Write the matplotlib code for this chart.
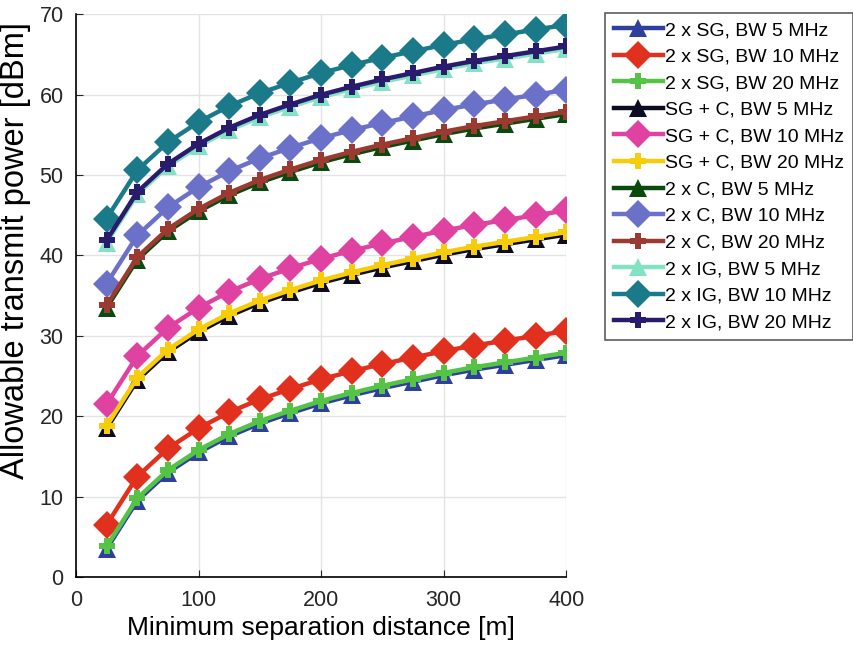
import matplotlib
matplotlib.use("Agg")
import matplotlib.pyplot as plt

plt.rcParams['font.family'] = ['Liberation Sans', 'DejaVu Sans']

distance = [25, 50, 75, 100, 125, 150, 175, 200, 225, 250, 275, 300, 325, 350, 375, 400]

sg_5 = [3.5, 9.5, 13.0, 15.5, 17.5, 19.1, 20.4, 21.6, 22.6, 23.5, 24.3, 25.1, 25.8, 26.4, 27.0, 27.6]
sg_10 = [6.5, 12.5, 16.0, 18.5, 20.5, 22.1, 23.4, 24.6, 25.6, 26.5, 27.3, 28.1, 28.8, 29.4, 30.0, 30.6]
sg_20 = [3.8, 9.8, 13.3, 15.8, 17.8, 19.4, 20.7, 21.9, 22.9, 23.8, 24.6, 25.4, 26.1, 26.7, 27.3, 27.9]
sgc_5 = [18.5, 24.5, 28.0, 30.5, 32.5, 34.1, 35.4, 36.6, 37.6, 38.5, 39.3, 40.1, 40.8, 41.4, 42.0, 42.6]
sgc_10 = [21.5, 27.5, 31.0, 33.5, 35.5, 37.1, 38.4, 39.6, 40.6, 41.5, 42.3, 43.1, 43.8, 44.4, 45.0, 45.6]
sgc_20 = [18.8, 24.8, 28.3, 30.8, 32.8, 34.4, 35.7, 36.9, 37.9, 38.8, 39.6, 40.4, 41.1, 41.7, 42.3, 42.9]
c_5 = [33.5, 39.5, 43.0, 45.5, 47.5, 49.1, 50.4, 51.6, 52.6, 53.5, 54.3, 55.1, 55.8, 56.4, 57.0, 57.6]
c_10 = [36.5, 42.5, 46.0, 48.5, 50.5, 52.1, 53.4, 54.6, 55.6, 56.5, 57.3, 58.1, 58.8, 59.4, 60.0, 60.6]
c_20 = [33.8, 39.8, 43.3, 45.8, 47.8, 49.4, 50.7, 51.9, 52.9, 53.8, 54.6, 55.4, 56.1, 56.7, 57.3, 57.9]
ig_5 = [41.6, 47.6, 51.1, 53.6, 55.6, 57.2, 58.5, 59.7, 60.7, 61.6, 62.4, 63.2, 63.9, 64.5, 65.1, 65.7]
ig_10 = [44.6, 50.6, 54.1, 56.6, 58.6, 60.2, 61.5, 62.7, 63.7, 64.6, 65.4, 66.2, 66.9, 67.5, 68.1, 68.7]
ig_20 = [41.9, 47.9, 51.4, 53.9, 55.9, 57.5, 58.8, 60.0, 61.0, 61.9, 62.7, 63.5, 64.2, 64.8, 65.4, 66.0]

labels = ["2 x SG, BW 5 MHz", "2 x SG, BW 10 MHz", "2 x SG, BW 20 MHz",
          "SG + C, BW 5 MHz", "SG + C, BW 10 MHz", "SG + C, BW 20 MHz",
          "2 x C, BW 5 MHz", "2 x C, BW 10 MHz", "2 x C, BW 20 MHz",
          "2 x IG, BW 5 MHz", "2 x IG, BW 10 MHz", "2 x IG, BW 20 MHz"]
series = [sg_5, sg_10, sg_20, sgc_5, sgc_10, sgc_20, c_5, c_10, c_20, ig_5, ig_10, ig_20]
colors = ["#2F3FA0", "#E2301E", "#55C445", "#0C0C22", "#E042A2", "#F7CC0A",
          "#0B4A0E", "#6B70C9", "#9A3A30", "#82E2C2", "#1A7A8A", "#2A1C6C"]
markers = ["^", "D", "P"] * 4
msizes = {"^": 13, "D": 14, "P": 11}

fig = plt.figure(figsize=(8.54, 6.52), dpi=100)
ax = fig.add_axes([0.089, 0.115, 0.574, 0.863])

for y, lab, col, mk in zip(series, labels, colors, markers):
    ax.plot(distance, y, color=col, marker=mk, markersize=msizes[mk],
            linewidth=3.2, label=lab, markeredgewidth=0)

ax.set_xlim(0, 400)
ax.set_ylim(0, 70)
ax.set_xticks([0, 100, 200, 300, 400])
ax.set_yticks(range(0, 71, 10))
ax.grid(True, color="#e3e3e3", linewidth=1)
ax.set_axisbelow(True)
ax.spines['top'].set_visible(False)
ax.spines['right'].set_visible(False)
ax.spines['left'].set_linewidth(1.2)
ax.spines['bottom'].set_linewidth(1.2)
ax.tick_params(direction='in', length=5, labelsize=15.5, colors='#262626', pad=9)
ax.set_xlabel("Minimum separation distance [m]", fontsize=19, labelpad=4)
ax.set_ylabel("Allowable transmit power [dBm]", fontsize=23.5)
ax.yaxis.set_label_coords(-0.092, 0.58)

leg = ax.legend(loc='upper left', bbox_to_anchor=(1.08, 1.003), fontsize=14,
                frameon=True, fancybox=False, edgecolor='#333333',
                handlelength=2.5, handletextpad=0.1, borderpad=0.45,
                labelspacing=0.46, borderaxespad=0)
leg.get_frame().set_linewidth(1.2)

fig.savefig("out.png", dpi=100)
